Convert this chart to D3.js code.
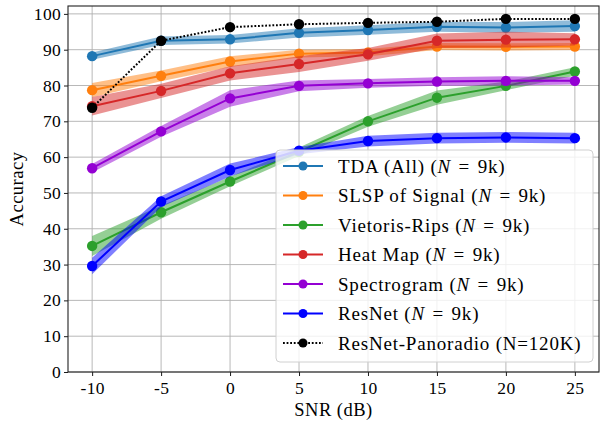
<!DOCTYPE html>
<html>
<head>
<meta charset="utf-8">
<script src="https://cdn.jsdelivr.net/npm/d3@7"></script>
<style>
  body { margin: 0; background: #fff; }
  text { font-family: "Liberation Serif", "DejaVu Serif", serif; }
</style>
</head>
<body>
<svg id="chart"></svg>
<script>
// values
var snr = [-10, -5, 0, 5, 10, 15, 20, 25];
var yTicks = [0, 10, 20, 30, 40, 50, 60, 70, 80, 90, 100];

var tdaMean = [88.2, 92.5, 92.9, 94.7, 95.5, 96.4, 96.2, 96.6];
var tdaStd  = [1.0, 1.2, 1.2, 1.3, 1.3, 1.4, 1.5, 1.6];
var slspMean = [78.7, 82.7, 86.7, 88.9, 89.2, 90.9, 90.8, 90.9];
var slspStd  = [2.0, 1.5, 1.5, 1.1, 1.0, 1.0, 1.0, 1.0];
var vrMean = [35.2, 44.6, 53.2, 61.5, 70.0, 76.6, 79.9, 83.9];
var vrStd  = [2.8, 1.8, 1.3, 1.2, 1.5, 2.0, 1.2, 1.2];
var heatMean = [74.2, 78.5, 83.4, 86.0, 88.7, 92.5, 92.8, 92.9];
var heatStd  = [2.6, 2.0, 2.0, 2.2, 1.8, 2.0, 2.2, 1.7];
var specMean = [56.9, 67.2, 76.4, 79.9, 80.6, 81.1, 81.3, 81.3];
var specStd  = [1.2, 1.5, 2.3, 1.5, 1.2, 1.2, 1.3, 1.0];
var resMean = [29.6, 47.6, 56.4, 61.8, 64.5, 65.3, 65.5, 65.3];
var resStd  = [2.3, 1.5, 1.8, 1.0, 1.5, 1.5, 1.5, 1.5];
var panoMean = [73.8, 92.5, 96.3, 97.1, 97.5, 97.8, 98.6, 98.6];

var seriesNames = ["TDA (All)", "SLSP of Signal", "Vietoris-Rips", "Heat Map", "Spectrogram", "ResNet", "ResNet-Panoradio"];
var seriesColors = ["#1f77b4", "#ff7f0e", "#2ca02c", "#d62728", "#9400d3", "#0000ff", "#000000"];

var series = [
    { mean: tdaMean, std: tdaStd },
    { mean: slspMean, std: slspStd },
    { mean: vrMean, std: vrStd },
    { mean: heatMean, std: heatStd },
    { mean: specMean, std: specStd },
    { mean: resMean, std: resStd },
    { mean: panoMean, std: null, dotted: true }
];
series.forEach(function (s, i) { s.name = seriesNames[i]; s.color = seriesColors[i]; });

var settings = { width: 600, height: 421 };
var margin = { left: 68, right: 1, top: 6, bottom: 49 };
var serif = "Liberation Serif, DejaVu Serif, serif";

var svg = d3.select("#chart")
    .attr("width", settings.width)
    .attr("height", settings.height);

var x = d3.scaleLinear()
    .domain([-11.75, 26.75])
    .range([margin.left, settings.width - margin.right]);
var y = d3.scaleLinear()
    .domain([0, 102.2])
    .range([settings.height - margin.bottom, margin.top]);

// grid
var grid = svg.append("g");
grid.selectAll("line.gx").data(snr).enter().append("line")
    .attr("x1", function (d) { return x(d); }).attr("x2", function (d) { return x(d); })
    .attr("y1", y.range()[0]).attr("y2", y.range()[1])
    .attr("stroke", "#b0b0b0").attr("stroke-width", 0.9);
grid.selectAll("line.gy").data(yTicks).enter().append("line")
    .attr("y1", function (d) { return y(d); }).attr("y2", function (d) { return y(d); })
    .attr("x1", x.range()[0]).attr("x2", x.range()[1])
    .attr("stroke", "#b0b0b0").attr("stroke-width", 0.9);

// bands, lines, markers
var area = d3.area()
    .x(function (d, i) { return x(snr[i]); })
    .y0(function (d) { return y(d[0] - d[1]); })
    .y1(function (d) { return y(d[0] + d[1]); });
var line = d3.line()
    .x(function (d, i) { return x(snr[i]); })
    .y(function (d) { return y(d); });

series.forEach(function (s) {
    var g = svg.append("g");
    if (s.std) {
        g.append("path")
            .datum(s.mean.map(function (m, i) { return [m, s.std[i]]; }))
            .attr("d", area)
            .attr("fill", s.color)
            .attr("fill-opacity", 0.5);
    }
    g.append("path")
        .datum(s.mean)
        .attr("d", line)
        .attr("fill", "none")
        .attr("stroke", s.color)
        .attr("stroke-width", 2)
        .attr("stroke-dasharray", s.dotted ? "1.8,1.8" : null);
    g.selectAll("circle").data(s.mean).enter().append("circle")
        .attr("cx", function (d, i) { return x(snr[i]); })
        .attr("cy", function (d) { return y(d); })
        .attr("r", 5.2)
        .attr("fill", s.color);
});

// axes
var xAxis = svg.append("g")
    .attr("transform", "translate(0," + y.range()[0] + ")")
    .call(d3.axisBottom(x).tickValues(snr).tickSize(4).tickSizeOuter(0)
        .tickFormat(function (d) { return String(d); }));
var yAxis = svg.append("g")
    .attr("transform", "translate(" + x.range()[0] + ",0)")
    .call(d3.axisLeft(y).tickValues(yTicks).tickSize(4).tickSizeOuter(0));
[xAxis, yAxis].forEach(function (a) {
    a.attr("font-family", serif).attr("font-size", 17.5);
    a.select(".domain").remove();
    a.selectAll("text").attr("fill", "#000").attr("letter-spacing", 0.3);
    a.selectAll("line").attr("stroke", "#000").attr("stroke-width", 0.9);
});
xAxis.selectAll("text").attr("dy", "0.88em");

// frame
svg.append("rect")
    .attr("x", x.range()[0]).attr("y", y.range()[1])
    .attr("width", x.range()[1] - x.range()[0])
    .attr("height", y.range()[0] - y.range()[1])
    .attr("fill", "none").attr("stroke", "#222").attr("stroke-width", 1.1);

svg.append("text")
    .attr("x", (x.range()[0] + x.range()[1]) / 2)
    .attr("y", 416)
    .attr("text-anchor", "middle")
    .attr("font-size", 18.5)
    .attr("letter-spacing", 0.5)
    .text("SNR (dB)");
svg.append("text")
    .attr("transform", "translate(23," + ((y.range()[0] + y.range()[1]) / 2) + ") rotate(-90)")
    .attr("text-anchor", "middle")
    .attr("font-size", 18.5)
    .attr("letter-spacing", 0.5)
    .text("Accuracy");

// legend
var legend = svg.append("g").attr("transform", "translate(276,150)");
legend.append("rect")
    .attr("width", 317).attr("height", 212)
    .attr("rx", 4)
    .attr("fill", "#fff").attr("fill-opacity", 0.8)
    .attr("stroke", "#d0d0d0").attr("stroke-width", 1);

var rows = legend.selectAll("g.row").data(series).enter().append("g")
    .attr("transform", function (d, i) { return "translate(0," + (16 + i * 29.5) + ")"; });
rows.append("line")
    .attr("x1", 7).attr("x2", 47)
    .attr("stroke", function (d) { return d.color; })
    .attr("stroke-width", 2)
    .attr("stroke-dasharray", function (d) { return d.dotted ? "1.8,1.8" : null; });
rows.append("circle")
    .attr("cx", 27).attr("r", 4.5)
    .attr("fill", function (d) { return d.color; });
var labels = rows.append("text")
    .attr("x", 62).attr("dy", "0.35em")
    .attr("font-size", 19)
    .attr("letter-spacing", 0.8);
labels.each(function (d) {
    var t = d3.select(this);
    if (d.dotted) {
        t.text(d.name + " (N=120K)");
    } else {
        t.append("tspan").text(d.name + " (");
        t.append("tspan").attr("font-style", "italic").text("N");
        t.append("tspan").attr("dx", 2).text(" = ");
        t.append("tspan").attr("dx", 2).text("9k)");
    }
});
</script>
</body>
</html>
